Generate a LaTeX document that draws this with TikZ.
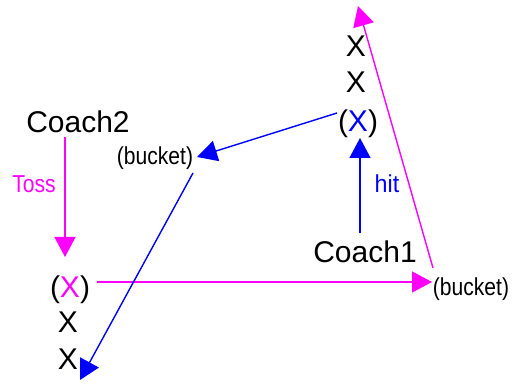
\documentclass[tikz,border=0pt]{standalone}
\usepackage{fontspec}
\setmainfont{Liberation Sans}
\usetikzlibrary{arrows.meta}
\definecolor{mag}{RGB}{255,0,255}
\definecolor{blu}{RGB}{0,0,255}
\newcommand{\bigf}{\fontsize{30}{30}\selectfont}
\newcommand{\smallf}[1]{\scalebox{0.86}[1]{\fontsize{24.5}{24.5}\selectfont #1}}
\begin{document}
\begin{tikzpicture}[x=1pt,y=-1pt,
  lbl/.style={inner sep=0pt,anchor=base},
  big/.style={lbl,font=\bigf},
  conn/.style={line width=1.4pt,-{Triangle[length=20pt,width=21pt]}},
  magc/.style={conn,draw=mag,fill=mag},
  bluc/.style={conn,draw=blu,fill=blu}]
\useasboundingbox (0,0) rectangle (512,387);
% nodes
\node[big] (c2) at (78,133) {Coach2};
\node[big] (c1) at (365,263) {Coach1};
\node[big] (t1) at (356,57) {X};
\node[big] (t2) at (356,93) {X};
\node[big] (tx) at (358,132) {(\textcolor{blu}{X})};
\node[big] (lx) at (70,298) {(\textcolor{mag}{X})};
\node[big] (l2) at (68,333) {X};
\node[big] (l3) at (68,370) {X};
\node[lbl] (lb) at (155,165) {\smallf{(bucket)}};
\node[lbl] (rb) at (471,296) {\smallf{(bucket)}};
\node[lbl,text=mag] (toss) at (34,193) {\smallf{Toss}};
\node[lbl,text=blu] (hit) at (387,193) {\scalebox{0.95}[1]{\fontsize{24.5}{24.5}\selectfont hit}};
% connectors
\draw[magc] ([shift={(-13,4)}]c2.base) -- ([shift={(-5,-41)}]lx.base);
\draw[magc] ([shift={(27,-16)}]lx.base) -- ([shift={(-39,-14)}]rb.base);
\draw[magc] ([shift={(-38,-28)}]rb.base) -- ([shift={(2,-51)}]t1.base);
\draw[bluc] ([shift={(-5,-30)}]c1.base) -- ([shift={(2,6)}]tx.base);
\draw[bluc] ([shift={(-21,-19)}]tx.base) -- ([shift={(42,-8)}]lb.base);
\draw[bluc] ([shift={(38,8)}]lb.base) -- ([shift={(12,10)}]l3.base);
\end{tikzpicture}
\end{document}
